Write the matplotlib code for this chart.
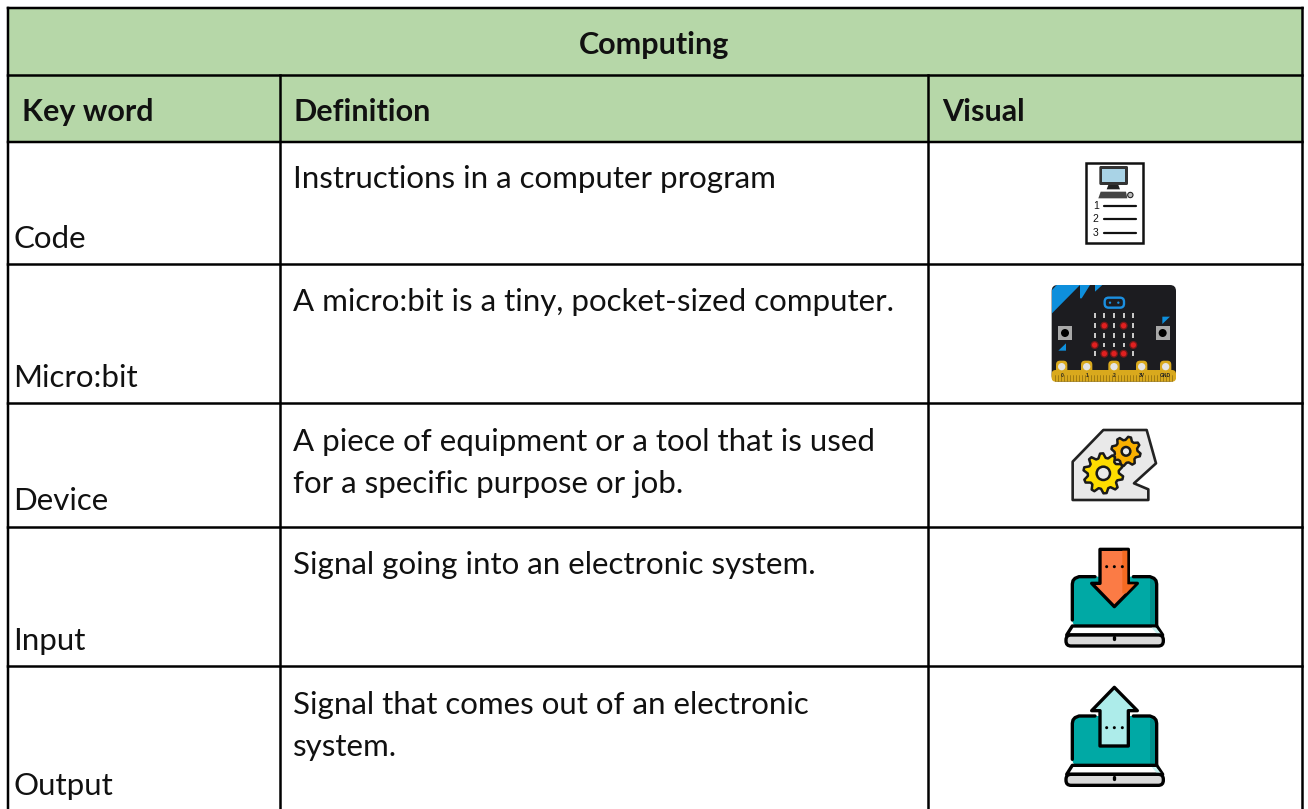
import numpy as np
import matplotlib
matplotlib.use('Agg')
import matplotlib.pyplot as plt
from matplotlib.patches import Rectangle, Polygon, Circle, FancyBboxPatch

# table content
title = 'Computing'
headers = ['Key word', 'Definition', 'Visual']
keywords = ['Code', 'Micro:bit', 'Device', 'Input', 'Output']
definitions = [
    ['Instructions in a computer program'],
    ['A micro:bit is a tiny, pocket-sized computer.'],
    ['A piece of equipment or a tool that is used', 'for a specific purpose or job.'],
    ['Signal going into an electronic system.'],
    ['Signal that comes out of an electronic', 'system.'],
]
keyword_base = [248, 387, 510, 650, 795]
definition_base = [188, 311, 451, 574, 714]

# grid lines, in pixels of the page
col_x = [8, 280.5, 928.5, 1302.5]
row_y = [8, 75.5, 142, 264.5, 403.5, 527.5, 666.5]

green = '#b6d7a8'
font = 'Lato'
fs = 22.5
fs_bold = 22

fig = plt.figure(figsize=(13.08, 8.09), dpi=100)
ax = fig.add_axes([0, 0, 1, 1])
ax.set_xlim(0, 1308)
ax.set_ylim(809, 0)
ax.axis('off')


def z(pts, ox, oy):
    return [(ox + p[0] / 3, oy + p[1] / 3) for p in pts]


def box(x0, y0, x1, y1, ox, oy, r=0, **kw):
    p0 = z([(x0, y0), (x1, y1)], ox, oy)
    w = p0[1][0] - p0[0][0]
    h = p0[1][1] - p0[0][1]
    if r:
        ax.add_patch(FancyBboxPatch((p0[0][0] + r, p0[0][1] + r), w - 2 * r, h - 2 * r,
                                    boxstyle='round,pad=%f,rounding_size=%f' % (r, r), **kw))
    else:
        ax.add_patch(Rectangle(p0[0], w, h, **kw))


def dot(x, y, r, ox, oy, **kw):
    ax.add_patch(Circle(z([(x, y)], ox, oy)[0], r / 3, **kw))


def poly(pts, ox, oy, **kw):
    ax.add_patch(Polygon(z(pts, ox, oy), closed=True, **kw))


def line(pts, ox, oy, color='black', lw=2.0):
    q = np.array(z(pts, ox, oy))
    ax.plot(q[:, 0], q[:, 1], color=color, lw=lw, solid_capstyle='round', solid_joinstyle='round')


def gear(cx, cy, r, hole, color, ox, oy, teeth=10):
    ang = np.linspace(0, 2 * np.pi, teeth * 4, endpoint=False) + 0.15
    rad = np.tile([r, r, r * 0.78, r * 0.78], teeth)
    pts = np.column_stack([cx + rad * np.cos(ang), cy + rad * np.sin(ang)])
    poly(pts, ox, oy, fc=color, ec='#1a1a1a', lw=1.8, joinstyle='round')
    dot(cx, cy, hole, ox, oy, fc='#e9e9e9', ec='#1a1a1a', lw=1.8)


def laptop(ox, oy, top, arrow, arrow_col, arrow_side, dots_y):
    # screen, base and arrow of the input / output pictures
    bot = top + 148
    box(97, top, 350, bot, ox, oy, r=6, fc='#00a9a5', ec='none')
    box(330, top + 8, 350, bot, ox, oy, fc='#008f8b', ec='none')
    line([(97, bot - 18), (97, top + 22), (99, top + 12), (105, top + 5), (117, top), (165, top)], ox, oy, lw=2.4)
    line([(280, top), (330, top), (342, top + 5), (348, top + 12), (350, top + 22), (350, bot)], ox, oy, lw=2.4)
    poly([(97, bot), (350, bot), (368, bot + 27), (80, bot + 27)], ox, oy, fc='white', ec='black', lw=2.4, joinstyle='round')
    poly([(335, bot + 5), (348, bot + 5), (362, bot + 23), (350, bot + 23)], ox, oy, fc='#c8f2f0', ec='none')
    box(78, bot + 27, 370, bot + 60, ox, oy, r=5, fc='#d9d9d9', ec='black', lw=2.4)
    line([(223, bot + 34), (223, bot + 40)], ox, oy, lw=2.4)
    poly(arrow, ox, oy, fc=arrow_col, ec='black', lw=2.4, joinstyle='round')
    if arrow_side:
        poly(arrow_side, ox, oy, fc='#f46a22', ec='none')
    for x in [200, 223, 247]:
        dot(x, dots_y, 4.5, ox, oy, fc='black', ec='none')


# header fills
ax.add_patch(Rectangle((col_x[0], row_y[0]), col_x[3] - col_x[0], row_y[2] - row_y[0], fc=green, ec='none'))

# grid
for y in row_y:
    ax.plot([col_x[0], col_x[3]], [y, y], color='black', lw=1.8, solid_capstyle='projecting', snap=False)
ax.plot([col_x[0], col_x[0]], [row_y[0], 809], color='black', lw=1.8, snap=False)
ax.plot([col_x[3], col_x[3]], [row_y[0], 809], color='black', lw=1.8, snap=False)
for x in col_x[1:3]:
    ax.plot([x, x], [row_y[1], 809], color='black', lw=1.8, snap=False)

# text
ax.text(654, 54, title, ha='center', va='baseline', fontsize=fs_bold, fontweight='bold', family=font, color='#111111')
for x, h in zip([22, 293, 942], headers):
    ax.text(x, 121, h, ha='left', va='baseline', fontsize=fs_bold, fontweight='bold', family=font, color='#111111')
for i in range(len(keywords)):
    ax.text(13.5, keyword_base[i], keywords[i], ha='left', va='baseline', fontsize=fs, family=font, color='#111111')
    for j, s in enumerate(definitions[i]):
        ax.text(293, definition_base[i] + j * 42, s, ha='left', va='baseline', fontsize=fs, family=font, color='#111111')

# code icon
ox, oy = 1040, 150
box(137, 40, 310, 280, ox, oy, fc='white', ec='#111111', lw=1.8)
box(178, 48, 264, 105, ox, oy, r=1.5, fc='#333333', ec='none')
box(186, 56, 254, 96, ox, oy, fc='#a9d3e6', ec='none')
poly([(205, 105), (235, 105), (240, 118), (200, 118)], ox, oy, fc='#222222', ec='none')
poly([(182, 125), (258, 125), (262, 145), (175, 145)], ox, oy, fc='#444444', ec='none')
dot(271, 135, 8, ox, oy, fc='#bbbbbb', ec='#222222', lw=0.8)
for n, y in zip(['1', '2', '3'], [167, 208, 250]):
    line([(192, y), (287, y)], ox, oy, color='#111111', lw=1.6)
    ax.text(ox + 167 / 3, oy + y / 3, n, ha='center', va='center', fontsize=7.5, family='Liberation Sans', color='#111111')

# micro:bit icon
box(35, 405, 408, 695, ox, oy, r=6, fc='#1c1c20', ec='none')
poly([(36, 490), (36, 420), (50, 405), (120, 405)], ox, oy, fc='#0e8fdc', ec='none')
poly([(120, 405), (150, 405), (125, 445), (120, 445)], ox, oy, fc='#0e8fdc', ec='none')
poly([(165, 405), (187, 405), (165, 425)], ox, oy, fc='#0e8fdc', ec='none')
box(194, 443, 252, 473, ox, oy, r=4, fc='none', ec='#1b8fe0', lw=1.7)
dot(210, 458, 3.5, ox, oy, fc='#1b8fe0', ec='none')
dot(235, 458, 3.5, ox, oy, fc='#1b8fe0', ec='none')
led_x = [164, 193, 222, 251, 280]
led_y = [497, 527, 556, 585, 611]
red = [(1, 1), (3, 1), (0, 3), (4, 3), (1, 4), (2, 4), (3, 4)]
for a, x in enumerate(led_x):
    for b, y in enumerate(led_y):
        if (a, b) in red:
            dot(x, y, 12, ox, oy, fc='#7a1818', ec='none')
            dot(x, y, 8, ox, oy, fc='#e02020', ec='none')
        else:
            box(x - 3, y - 7, x + 3, y + 7, ox, oy, fc='#c8c8c8', ec='none')
for x in [75, 368]:
    box(x - 21, 528, x + 21, 570, ox, oy, fc='#a8a8a8', ec='none')
    dot(x, 549, 12, ox, oy, fc='black', ec='none')
poly([(55, 602), (78, 580), (78, 602)], ox, oy, fc='#0e8fdc', ec='none')
poly([(367, 500), (390, 500), (367, 522)], ox, oy, fc='#0e8fdc', ec='none')
box(35, 660, 408, 695, ox, oy, r=4, fc='#d9a91d', ec='none')
for x in range(45, 400, 9):
    line([(x, 675), (x, 692)], ox, oy, color='#8a6a10', lw=0.5)
pins = ['0', '1', '2', '3V', 'GND']
for x, n in zip([65, 140, 222, 305, 377], pins):
    box(x - 17, 632, x + 17, 692, ox, oy, r=4, fc='#d9a91d', ec='none')
    dot(x, 650, 11, ox, oy, fc='#e4e4e4', ec='none')
    ax.text(ox + x / 3, oy + 676 / 3, n, ha='center', va='center', fontsize=3.5, fontweight='bold', family='Liberation Sans', color='#222222')

# device icon
ox, oy = 1040, 420
poly([(98, 125), (190, 30), (320, 30), (348, 130), (282, 190), (325, 208), (325, 240), (98, 240)],
     ox, oy, fc='#e9e9e9', ec='#222222', lw=1.9, joinstyle='round')
gear(258, 94, 44, 13, '#f9b000', ox, oy, teeth=8)
gear(190, 160, 60, 20, '#ffdd00', ox, oy, teeth=10)

# input icon
input_arrow = [(180, 388), (265, 388), (265, 490), (292, 490), (223, 560), (155, 490), (180, 490)]
input_side = [(247, 392), (262, 392), (262, 493), (284, 493), (258, 520), (247, 520)]
laptop(1040, 420, 470, input_arrow, '#fb7b45', input_side, 440)

# output icon
output_arrow = [(223, 52), (292, 122), (265, 122), (265, 228), (180, 228), (180, 122), (155, 122)]
laptop(1040, 670, 138, output_arrow, '#adecea', None, 173)

fig.savefig('out.png', dpi=100)
